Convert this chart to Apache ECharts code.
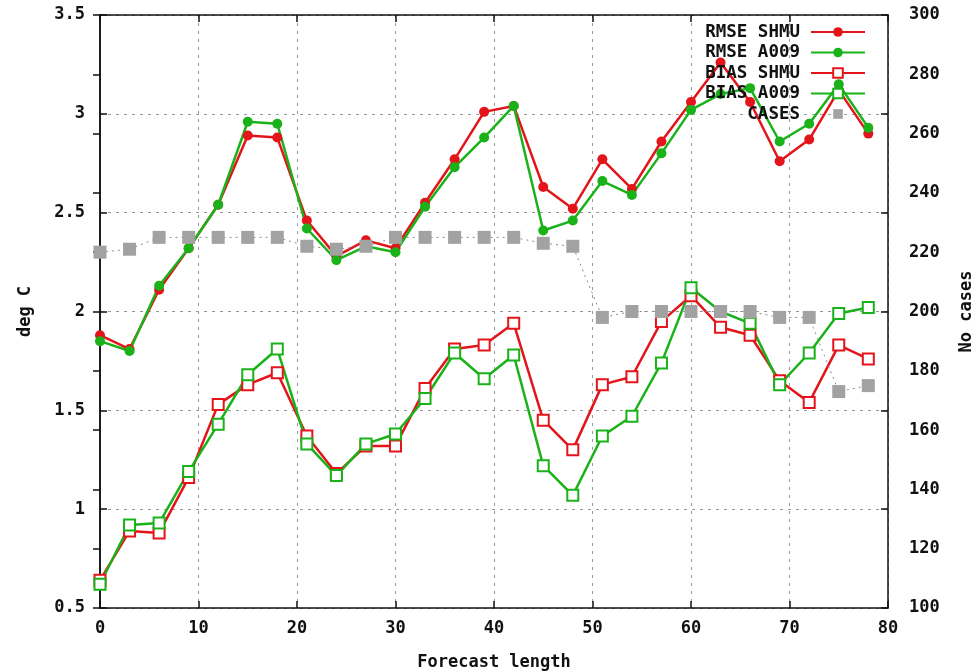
<!DOCTYPE html>
<html>
<head>
<meta charset="utf-8">
<script src="https://cdn.jsdelivr.net/npm/echarts@6/dist/echarts.min.js"></script>
<style>
  html, body { margin: 0; padding: 0; background: #fff; }
  #chart { width: 973px; height: 671px; }
</style>
</head>
<body>
<div id="chart"></div>
<script>
// Forecast lead times (hours)
const hours = [0, 3, 6, 9, 12, 15, 18, 21, 24, 27, 30, 33, 36, 39, 42, 45, 48, 51, 54, 57, 60, 63, 66, 69, 72, 75, 78];

// RMSE (deg C)
const rmseShmu = [1.88, 1.81, 2.11, 2.32, 2.54, 2.89, 2.88, 2.46, 2.28, 2.36, 2.32, 2.55, 2.77, 3.01, 3.04, 2.63, 2.52, 2.77, 2.62, 2.86, 3.06, 3.26, 3.06, 2.76, 2.87, 3.12, 2.90];
const rmseA009 = [1.85, 1.80, 2.13, 2.32, 2.54, 2.96, 2.95, 2.42, 2.26, 2.33, 2.30, 2.53, 2.73, 2.88, 3.04, 2.41, 2.46, 2.66, 2.59, 2.80, 3.02, 3.10, 3.13, 2.86, 2.95, 3.15, 2.93];

// BIAS (deg C)
const biasShmu = [0.64, 0.89, 0.88, 1.16, 1.53, 1.63, 1.69, 1.37, 1.18, 1.32, 1.32, 1.61, 1.81, 1.83, 1.94, 1.45, 1.30, 1.63, 1.67, 1.95, 2.08, 1.92, 1.88, 1.65, 1.54, 1.83, 1.76];
const biasA009 = [0.62, 0.92, 0.93, 1.19, 1.43, 1.68, 1.81, 1.33, 1.17, 1.33, 1.38, 1.56, 1.79, 1.66, 1.78, 1.22, 1.07, 1.37, 1.47, 1.74, 2.12, 2.00, 1.94, 1.63, 1.79, 1.99, 2.02];

// Number of verified cases (right axis)
const cases = [220, 221, 225, 225, 225, 225, 225, 222, 221, 222, 225, 225, 225, 225, 225, 223, 222, 198, 200, 200, 200, 200, 200, 198, 198, 173, 175];

const seriesNames = ['RMSE SHMU', 'RMSE A009', 'BIAS SHMU', 'BIAS A009', 'CASES'];

const FONT = 'DejaVu Sans Mono';
const RED = '#e3151b';
const GREEN = '#19b319';
const GREY = '#a2a2a2';

const pairs = (ys) => hours.map((h, i) => [h, ys[i]]);

const tickText = { fontFamily: FONT, fontWeight: 'bold', fontSize: 17, color: '#111' };
const nameText = { fontFamily: FONT, fontWeight: 'bold', fontSize: 17, color: '#111' };
const gridLine = { show: true, lineStyle: { color: '#9a9a9a', type: [3, 5], width: 1 } };
const frameLine = { show: true, lineStyle: { color: '#111', width: 1.5 } };
const innerTick = { show: true, inside: true, length: 7, lineStyle: { color: '#111', width: 1.5 } };

const chart = echarts.init(document.getElementById('chart'), null, { renderer: 'canvas' });

chart.setOption({
  animation: false,
  backgroundColor: '#fff',
  grid: { left: 100, right: 85, top: 15, bottom: 63, containLabel: false, outerBoundsMode: 'none' },
  legend: {
    orient: 'vertical',
    right: 107,
    top: 23,
    align: 'right',
    itemWidth: 54,
    itemHeight: 12,
    itemGap: 2.5,
    padding: 0,
    textStyle: { fontFamily: FONT, fontWeight: 'bold', fontSize: 17.5, color: '#111', padding: [0, 6, 0, 0] },
    data: [
      { name: 'RMSE SHMU' },
      { name: 'RMSE A009' },
      { name: 'BIAS SHMU' },
      { name: 'BIAS A009' },
      { name: 'CASES', lineStyle: { opacity: 0 } }
    ]
  },
  xAxis: [
    {
      type: 'value', min: 0, max: 80, interval: 10, position: 'bottom',
      name: 'Forecast length', nameLocation: 'middle', nameGap: 46,
      nameTextStyle: nameText,
      axisLine: frameLine, axisTick: innerTick,
      axisLabel: Object.assign({ margin: 12 }, tickText),
      splitLine: gridLine
    },
    {
      type: 'value', min: 0, max: 80, interval: 10, position: 'top',
      axisLine: frameLine, axisTick: innerTick,
      axisLabel: { show: false }, splitLine: { show: false }
    }
  ],
  yAxis: [
    {
      type: 'value', min: 0.5, max: 3.5, interval: 0.5, position: 'left',
      name: 'deg C', nameLocation: 'middle', nameGap: 66, nameRotate: 90,
      nameTextStyle: nameText,
      axisLine: frameLine, axisTick: innerTick,
      axisLabel: Object.assign({ margin: 15 }, tickText),
      splitLine: gridLine
    },
    {
      type: 'value', min: 100, max: 300, interval: 20, position: 'right',
      name: 'No cases', nameLocation: 'middle', nameGap: 70, nameRotate: 90,
      nameTextStyle: nameText,
      axisLine: frameLine, axisTick: innerTick,
      axisLabel: Object.assign({ margin: 21 }, tickText),
      splitLine: { show: false }
    },
    {
      type: 'value', min: 0.5, max: 3.5, interval: 0.5, position: 'right',
      axisLine: frameLine, axisTick: innerTick,
      axisLabel: { show: false }, splitLine: { show: false }
    }
  ],
  series: [
    {
      name: seriesNames[0], type: 'line', xAxisIndex: 0, yAxisIndex: 0,
      data: pairs(rmseShmu),
      symbol: 'circle', symbolSize: 10,
      lineStyle: { color: RED, width: 2.5 },
      itemStyle: { color: RED, borderWidth: 0 }
    },
    {
      name: seriesNames[1], type: 'line', xAxisIndex: 0, yAxisIndex: 0,
      data: pairs(rmseA009),
      symbol: 'circle', symbolSize: 10,
      lineStyle: { color: GREEN, width: 2.5 },
      itemStyle: { color: GREEN, borderWidth: 0 }
    },
    {
      name: seriesNames[2], type: 'line', xAxisIndex: 0, yAxisIndex: 0,
      data: pairs(biasShmu),
      symbol: 'emptyRect', symbolSize: 11,
      lineStyle: { color: RED, width: 2.5 },
      itemStyle: { color: RED, borderWidth: 2.2 }
    },
    {
      name: seriesNames[3], type: 'line', xAxisIndex: 0, yAxisIndex: 0,
      data: pairs(biasA009),
      symbol: 'emptyRect', symbolSize: 11,
      lineStyle: { color: GREEN, width: 2.5 },
      itemStyle: { color: GREEN, borderWidth: 2.2 }
    },
    {
      name: seriesNames[4], type: 'line', xAxisIndex: 0, yAxisIndex: 1,
      data: pairs(cases),
      symbol: 'rect', symbolSize: 13,
      lineStyle: { color: '#8c8c8c', width: 1, type: [2, 4] },
      itemStyle: { color: GREY, borderWidth: 0 },
      z: 5
    }
  ]
});
</script>
</body>
</html>
